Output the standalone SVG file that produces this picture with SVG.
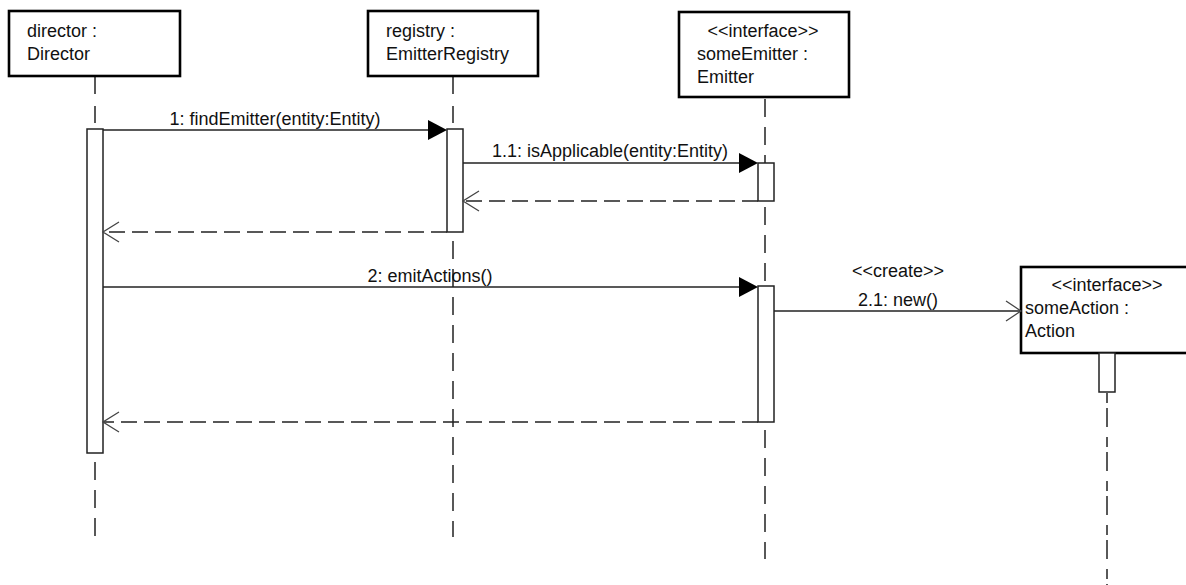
<svg xmlns="http://www.w3.org/2000/svg" width="1186" height="585" viewBox="0 0 1186 585">
  <defs>
    <style>
      text { font-family: "Liberation Sans", Arial, sans-serif; font-size: 18px; fill: #111; }
      .mid { text-anchor: middle; }
      .obj { fill: #fff; stroke: #000; stroke-width: 2.6; }
      .life { fill: none; stroke: #222; stroke-width: 1.5; stroke-dasharray: 18 10; }
      .act { fill: #fff; stroke: #222; stroke-width: 1.5; }
      .call { fill: none; stroke: #222; stroke-width: 1.3; }
      .ret { fill: none; stroke: #222; stroke-width: 1.3; stroke-dasharray: 16 7; }
      .open { fill: none; stroke: #444; stroke-width: 1.3; }
      .solid { fill: #000; stroke: none; }
    </style>
  </defs>

  <rect width="1186" height="585" fill="#fff"/>

  <!-- lifelines -->
  <g id="lifelines">
    <line class="life" x1="95" y1="77" x2="95" y2="129" style="stroke-dasharray:17 12"/>
    <line class="life" x1="95" y1="462" x2="95" y2="536"/>
    <line class="life" x1="453" y1="77" x2="453" y2="129" style="stroke-dasharray:17 12"/>
    <line class="life" x1="453" y1="241" x2="453" y2="537"/>
    <line class="life" x1="765" y1="99" x2="765" y2="163"/>
    <line class="life" x1="765" y1="201" x2="765" y2="286" style="stroke-dashoffset:-6"/>
    <line class="life" x1="765" y1="430" x2="765" y2="559"/>
    <line class="life" x1="1107" y1="393" x2="1107" y2="585" style="stroke-dasharray:10 5 19 10"/>
  </g>

  <!-- object boxes -->
  <g id="director">
    <rect class="obj" x="9" y="11" width="171" height="65"/>
    <text x="27" y="37">director :</text>
    <text x="27" y="60">Director</text>
  </g>
  <g id="registry">
    <rect class="obj" x="368" y="11" width="170" height="65"/>
    <text x="386" y="37">registry :</text>
    <text x="386" y="60">EmitterRegistry</text>
  </g>
  <g id="someEmitter">
    <rect class="obj" x="679" y="12" width="170" height="85"/>
    <text class="mid" x="763" y="37">&lt;&lt;interface&gt;&gt;</text>
    <text x="697" y="60">someEmitter :</text>
    <text x="697" y="83">Emitter</text>
  </g>
  <g id="someAction">
    <rect class="obj" x="1021" y="267" width="180" height="86"/>
    <text class="mid" x="1107" y="291">&lt;&lt;interface&gt;&gt;</text>
    <text x="1025" y="314">someAction :</text>
    <text x="1025" y="337">Action</text>
  </g>

  <!-- activation bars -->
  <g id="activations">
    <rect class="act" x="87" y="129" width="16" height="324"/>
    <rect class="act" x="447" y="129" width="16" height="103"/>
    <rect class="act" x="758" y="163" width="16" height="38"/>
    <rect class="act" x="758" y="286" width="16" height="136"/>
    <rect class="act" x="1099" y="353" width="16" height="39"/>
  </g>

  <!-- messages -->
  <g id="connectors">
    <!-- 1: findEmitter -->
    <line class="call" x1="103" y1="130" x2="430" y2="130"/>
    <polygon class="solid" points="428,120 447,130 428,140"/>
    <text class="mid" x="275" y="125">1: findEmitter(entity:Entity)</text>

    <!-- 1.1: isApplicable -->
    <line class="call" x1="463" y1="163" x2="740" y2="163"/>
    <polygon class="solid" points="739,153 758,163 739,173"/>
    <text class="mid" x="610" y="157">1.1: isApplicable(entity:Entity)</text>

    <!-- return from 1.1 -->
    <line class="ret" x1="758" y1="201" x2="463" y2="201"/>
    <polyline class="open" points="479,191 463,201 479,211"/>

    <!-- return from 1 -->
    <line class="ret" x1="447" y1="232" x2="103" y2="232"/>
    <polyline class="open" points="119,222 103,232 119,242"/>

    <!-- 2: emitActions -->
    <line class="call" x1="103" y1="287" x2="740" y2="287"/>
    <polygon class="solid" points="739,277 758,287 739,297"/>
    <text class="mid" x="430" y="282">2: emitActions()</text>

    <!-- 2.1: new -->
    <line class="call" x1="774" y1="311" x2="1021" y2="311"/>
    <polyline class="open" points="1006,301 1021,311 1006,321"/>
    <text class="mid" x="898" y="277">&lt;&lt;create&gt;&gt;</text>
    <text class="mid" x="898" y="306">2.1: new()</text>

    <!-- return from 2 -->
    <line class="ret" x1="758" y1="422" x2="103" y2="422"/>
    <polyline class="open" points="119,412 103,422 119,432"/>
  </g>
</svg>
